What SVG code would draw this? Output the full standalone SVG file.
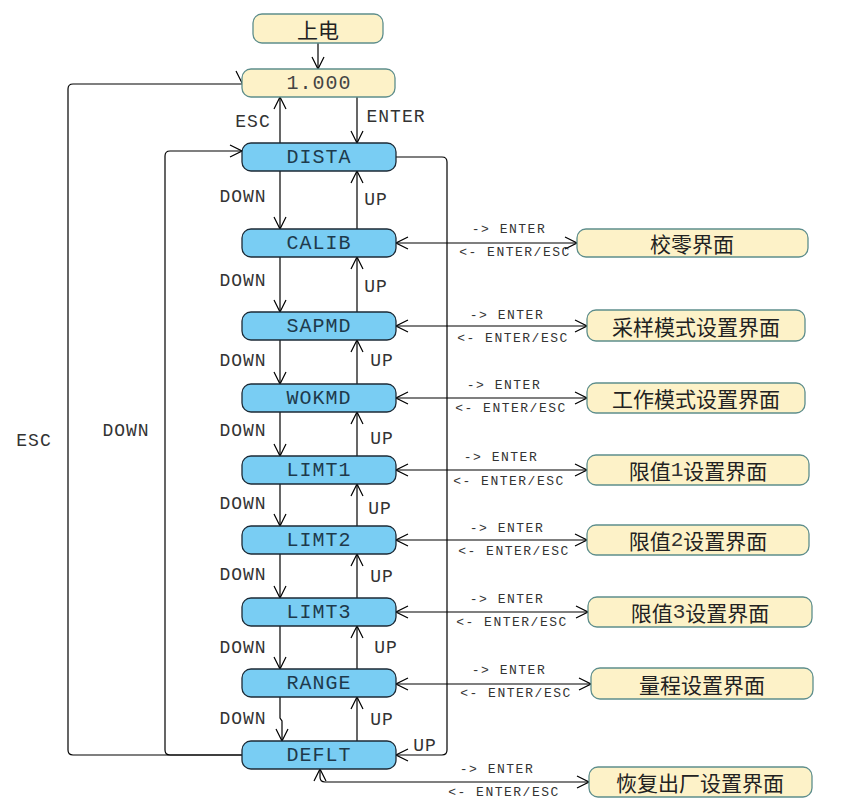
<svg xmlns="http://www.w3.org/2000/svg" width="862" height="812" viewBox="0 0 862 812">
<style>
.st{fill:#79cdf3;stroke:#1c2a36;stroke-width:1.3}
.sc{fill:#fdf2c8;stroke:#5e8e8c;stroke-width:1.3}
.nl{font-family:"Liberation Mono",monospace;font-size:20px;letter-spacing:1px;fill:#1e3a4c;text-anchor:middle;dominant-baseline:central}
.cl{font-family:"Noto Sans CJK SC",sans-serif;font-size:21px;fill:#222;text-anchor:middle;dominant-baseline:central}
.cl tspan.d{font-family:"Liberation Mono",monospace;fill:#333}
.lb{font-family:"Liberation Mono",monospace;font-size:18px;letter-spacing:1px;fill:#333;text-anchor:middle;dominant-baseline:central}
.sl{font-family:"Liberation Mono",monospace;font-size:13px;letter-spacing:1.5px;fill:#333;text-anchor:middle;dominant-baseline:central}
.ln{fill:none;stroke:#000;stroke-width:1.2}
</style>
<defs>
<marker id="ah" viewBox="0 0 14 14" refX="13" refY="7" markerWidth="14" markerHeight="14" markerUnits="userSpaceOnUse" orient="auto-start-reverse">
<path d="M1,1 L13,7 L1,13" fill="none" stroke="#000" stroke-width="1.2"/>
</marker>
</defs>
<g id="connectors">
<path class="ln" d="M318,43 L318,69" marker-end="url(#ah)"/>
<path class="ln" d="M280,143 L280,97" marker-end="url(#ah)"/>
<path class="ln" d="M357,97 L357,143" marker-end="url(#ah)"/>
<path class="ln" d="M280,171 L280,229" marker-end="url(#ah)"/>
<path class="ln" d="M357,229 L357,171" marker-end="url(#ah)"/>
<path class="ln" d="M280,257 L280,312" marker-end="url(#ah)"/>
<path class="ln" d="M357,312 L357,257" marker-end="url(#ah)"/>
<path class="ln" d="M280,340 L280,384" marker-end="url(#ah)"/>
<path class="ln" d="M357,384 L357,340" marker-end="url(#ah)"/>
<path class="ln" d="M280,412 L280,456" marker-end="url(#ah)"/>
<path class="ln" d="M357,456 L357,412" marker-end="url(#ah)"/>
<path class="ln" d="M280,484 L280,526" marker-end="url(#ah)"/>
<path class="ln" d="M357,526 L357,484" marker-end="url(#ah)"/>
<path class="ln" d="M280,554 L280,598" marker-end="url(#ah)"/>
<path class="ln" d="M357,598 L357,554" marker-end="url(#ah)"/>
<path class="ln" d="M280,626 L280,669" marker-end="url(#ah)"/>
<path class="ln" d="M357,669 L357,626" marker-end="url(#ah)"/>
<path class="ln" d="M280,697 L280,718 L282,721 L282,741" marker-end="url(#ah)"/>
<path class="ln" d="M357,741 L357,697" marker-end="url(#ah)"/>
<path class="ln" d="M242,755 L73,755 Q68,755 68,750 L68,89 Q68,84 73,84 L242,84"/>
<path class="ln" d="M236,71 L242,83 L248,71"/>
<path class="ln" d="M242,755 L170,755 Q165,755 165,750 L165,156 Q165,151 170,151 L242,151" marker-end="url(#ah)"/>
<path class="ln" d="M396,157 L442,157 Q447,157 447,162 L447,750 Q447,755 442,755 L396,755" marker-end="url(#ah)"/>
<path class="ln" d="M396,243 L577,243" marker-start="url(#ah)" marker-end="url(#ah)"/>
<path class="ln" d="M396,326 L587,326" marker-start="url(#ah)" marker-end="url(#ah)"/>
<path class="ln" d="M396,398 L587,398" marker-start="url(#ah)" marker-end="url(#ah)"/>
<path class="ln" d="M396,470 L587,470" marker-start="url(#ah)" marker-end="url(#ah)"/>
<path class="ln" d="M396,540 L587,540" marker-start="url(#ah)" marker-end="url(#ah)"/>
<path class="ln" d="M396,612 L588,612" marker-start="url(#ah)" marker-end="url(#ah)"/>
<path class="ln" d="M396,684 L591,684" marker-start="url(#ah)" marker-end="url(#ah)"/>
<path class="ln" d="M320,769 L320,777 Q320,782 325,782 L589,782" marker-start="url(#ah)" marker-end="url(#ah)"/>
<text class="lb" x="253" y="122">ESC</text>
<text class="lb" x="396" y="117">ENTER</text>
<text class="lb" x="34" y="441">ESC</text>
<text class="lb" x="126" y="431">DOWN</text>
<text class="lb" x="243" y="197">DOWN</text>
<text class="lb" x="243" y="281">DOWN</text>
<text class="lb" x="243" y="361">DOWN</text>
<text class="lb" x="243" y="431">DOWN</text>
<text class="lb" x="243" y="504">DOWN</text>
<text class="lb" x="243" y="575">DOWN</text>
<text class="lb" x="243" y="648">DOWN</text>
<text class="lb" x="243" y="719">DOWN</text>
<text class="lb" x="376" y="200">UP</text>
<text class="lb" x="376" y="287">UP</text>
<text class="lb" x="382" y="361">UP</text>
<text class="lb" x="382" y="439">UP</text>
<text class="lb" x="380" y="509">UP</text>
<text class="lb" x="382" y="577">UP</text>
<text class="lb" x="386" y="648">UP</text>
<text class="lb" x="382" y="720">UP</text>
<text class="lb" x="425" y="746">UP</text>
<text class="sl" x="509" y="229">-&gt; ENTER</text>
<text class="sl" x="515" y="252">&lt;- ENTER/ESC</text>
<text class="sl" x="507" y="315">-&gt; ENTER</text>
<text class="sl" x="513" y="338">&lt;- ENTER/ESC</text>
<text class="sl" x="504" y="385">-&gt; ENTER</text>
<text class="sl" x="511" y="408">&lt;- ENTER/ESC</text>
<text class="sl" x="501" y="457">-&gt; ENTER</text>
<text class="sl" x="509" y="481">&lt;- ENTER/ESC</text>
<text class="sl" x="507" y="528">-&gt; ENTER</text>
<text class="sl" x="514" y="551">&lt;- ENTER/ESC</text>
<text class="sl" x="507" y="599">-&gt; ENTER</text>
<text class="sl" x="512" y="622">&lt;- ENTER/ESC</text>
<text class="sl" x="509" y="670">-&gt; ENTER</text>
<text class="sl" x="516" y="693">&lt;- ENTER/ESC</text>
<text class="sl" x="497" y="769">-&gt; ENTER</text>
<text class="sl" x="504" y="792">&lt;- ENTER/ESC</text>
</g>
<g id="n-power"><rect class="sc" x="253" y="14" width="130" height="29" rx="9"/><text class="cl" x="318" y="28.5">上电</text></g>
<g id="n-1000"><rect class="sc" x="242" y="69" width="153" height="28" rx="9"/><text class="nl" x="319" y="83" style="fill:#444">1.000</text></g>
<g id="n-dista"><rect class="st" x="242" y="143" width="154" height="28" rx="9"/><text class="nl" x="319" y="157">DISTA</text></g>
<g id="n-calib"><rect class="st" x="242" y="229" width="154" height="28" rx="9"/><text class="nl" x="319" y="243">CALIB</text></g>
<g id="n-sapmd"><rect class="st" x="242" y="312" width="154" height="28" rx="9"/><text class="nl" x="319" y="326">SAPMD</text></g>
<g id="n-wokmd"><rect class="st" x="242" y="384" width="154" height="28" rx="9"/><text class="nl" x="319" y="398">WOKMD</text></g>
<g id="n-limt1"><rect class="st" x="242" y="456" width="154" height="28" rx="9"/><text class="nl" x="319" y="470">LIMT1</text></g>
<g id="n-limt2"><rect class="st" x="242" y="526" width="154" height="28" rx="9"/><text class="nl" x="319" y="540">LIMT2</text></g>
<g id="n-limt3"><rect class="st" x="242" y="598" width="154" height="28" rx="9"/><text class="nl" x="319" y="612">LIMT3</text></g>
<g id="n-range"><rect class="st" x="242" y="669" width="154" height="28" rx="9"/><text class="nl" x="319" y="683">RANGE</text></g>
<g id="n-deflt"><rect class="st" x="242" y="741" width="154" height="28" rx="9"/><text class="nl" x="319" y="755">DEFLT</text></g>
<g id="s-calib"><rect class="sc" x="577" y="229" width="231" height="28" rx="9"/><text class="cl" x="692" y="243">校零界面</text></g>
<g id="s-sapmd"><rect class="sc" x="587" y="310" width="218" height="31" rx="9"/><text class="cl" x="696" y="325.5">采样模式设置界面</text></g>
<g id="s-wokmd"><rect class="sc" x="587" y="383" width="218" height="30" rx="9"/><text class="cl" x="696" y="398">工作模式设置界面</text></g>
<g id="s-limt1"><rect class="sc" x="587" y="455" width="222" height="30" rx="9"/><text class="cl" x="698" y="470">限值<tspan class="d">1</tspan>设置界面</text></g>
<g id="s-limt2"><rect class="sc" x="587" y="525" width="222" height="30" rx="9"/><text class="cl" x="698" y="540">限值<tspan class="d">2</tspan>设置界面</text></g>
<g id="s-limt3"><rect class="sc" x="588" y="597" width="224" height="30" rx="9"/><text class="cl" x="700" y="612">限值<tspan class="d">3</tspan>设置界面</text></g>
<g id="s-range"><rect class="sc" x="591" y="668" width="222" height="31" rx="9"/><text class="cl" x="702" y="683.5">量程设置界面</text></g>
<g id="s-deflt"><rect class="sc" x="589" y="767" width="223" height="30" rx="9"/><text class="cl" x="700" y="782">恢复出厂设置界面</text></g>
</svg>
